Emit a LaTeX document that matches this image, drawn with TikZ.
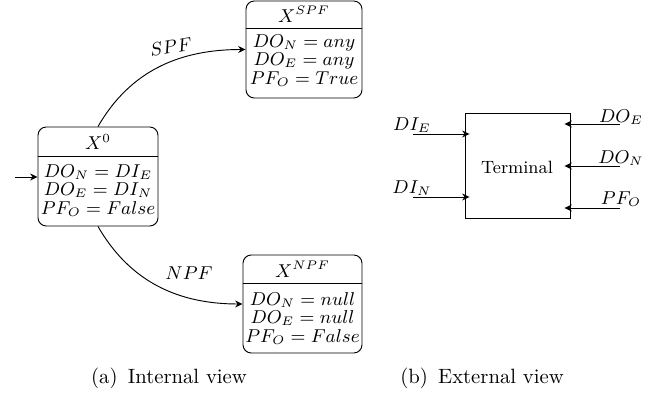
\documentclass[tikz,border=0pt]{standalone}
\usetikzlibrary{arrows.meta}
\newcommand{\diagfont}{\fontsize{8.6}{10}\selectfont}
\newcommand{\termfont}{\fontsize{8.6}{10}\selectfont}
\begin{document}
\begin{tikzpicture}[x=0.017cm,y=-0.017cm,
  statebox/.style={draw, rounded corners=4pt, line width=0.45pt, inner sep=0pt},
  txt/.style={font=\diagfont, inner sep=0pt},
  ttxt/.style={font=\termfont, inner sep=0pt},
  arr/.style={-{Stealth[length=3.6pt,width=3.4pt,inset=1.2pt]}, line width=0.45pt},
  divider/.style={line width=0.45pt}]
\useasboundingbox (0,0) rectangle (670,399);

% ---------- X^0 ----------
\node[statebox, minimum width=120*0.017cm, minimum height=99*0.017cm] (s0) at (98,176.5) {};
\draw[divider] (s0.west |- 0,156) -- (s0.east |- 0,156);
\node[txt] (s0t) at (98,142) {$X^0$};
\node[txt] (s0a) at (98,172) {$DO_N = DI_E$};
\node[txt] (s0b) at (98,190) {$DO_E = DI_N$};
\node[txt] (s0c) at (98,209) {$PF_O = False$};
\coordinate (entry) at (15,177);
\draw[arr] (entry) -- (s0.west |- entry);

% ---------- X^SPF ----------
\node[statebox, minimum width=116*0.017cm, minimum height=97*0.017cm] (spf) at (304,49.5) {};
\draw[divider] (spf.west |- 0,28) -- (spf.east |- 0,28);
\node[txt] (spft) at (304,14) {$X^{SPF}$};
\node[txt] (spfa) at (304,43) {$DO_N = any$};
\node[txt] (spfb) at (304,61) {$DO_E = any$};
\node[txt] (spfc) at (304,79) {$PF_O = True$};

% ---------- X^NPF ----------
\node[statebox, minimum width=119*0.017cm, minimum height=98*0.017cm] (npf) at (302.5,304) {};
\draw[divider] (npf.west |- 0,283) -- (npf.east |- 0,283);
\node[txt] (npft) at (302.5,269) {$X^{NPF}$};
\node[txt] (npfa) at (302.5,300) {$DO_N = null$};
\node[txt] (npfb) at (302.5,318) {$DO_E = null$};
\node[txt] (npfc) at (302.5,337) {$PF_O = False$};

% transitions
\draw[arr] (s0.north) to[out=60,in=180] (spf.west);
\node[inner sep=0pt, font=\fontsize{9}{11}\selectfont, rotate=10] (lspf) at (171,47) {$SPF$};
\draw[arr] (s0.south) to[out=-60,in=180] (npf.west);
\node[inner sep=0pt, font=\fontsize{9}{11}\selectfont] (lnpf) at (189,273) {$NPF$};

% ---------- Terminal ----------
\node[draw, line width=0.45pt, minimum width=105*0.017cm, minimum height=105*0.017cm, inner sep=0pt] (term) at (517.5,165.5) {};
\node[ttxt] (termt) at (517,167) {Terminal};

\coordinate (ie) at (413,134);
\coordinate (in) at (413,197);
\draw[arr] (ie) -- ([xshift=5*0.017cm]term.west |- ie);
\draw[arr] (in) -- ([xshift=5*0.017cm]term.west |- in);
\node[ttxt] (lie) at (412,125) {$DI_E$};
\node[ttxt] (lin) at (412,188) {$DI_N$};

\coordinate (oe) at (620,124);
\coordinate (on) at (620,166);
\coordinate (op) at (620,208);
\draw[arr] (oe) -- ([xshift=-6*0.017cm]term.east |- oe);
\draw[arr] (on) -- ([xshift=-6*0.017cm]term.east |- on);
\draw[arr] (op) -- ([xshift=-6*0.017cm]term.east |- op);
\node[ttxt] (loe) at (621,117) {$DO_E$};
\node[ttxt] (lon) at (621,158) {$DO_N$};
\node[ttxt] (lop) at (621,199) {$PF_O$};

% captions
\node[inner sep=0pt] (capa) at (169,378) {(a)\enspace Internal view};
\node[inner sep=0pt] (capb) at (482,378) {(b)\enspace External view};
\end{tikzpicture}
\end{document}
